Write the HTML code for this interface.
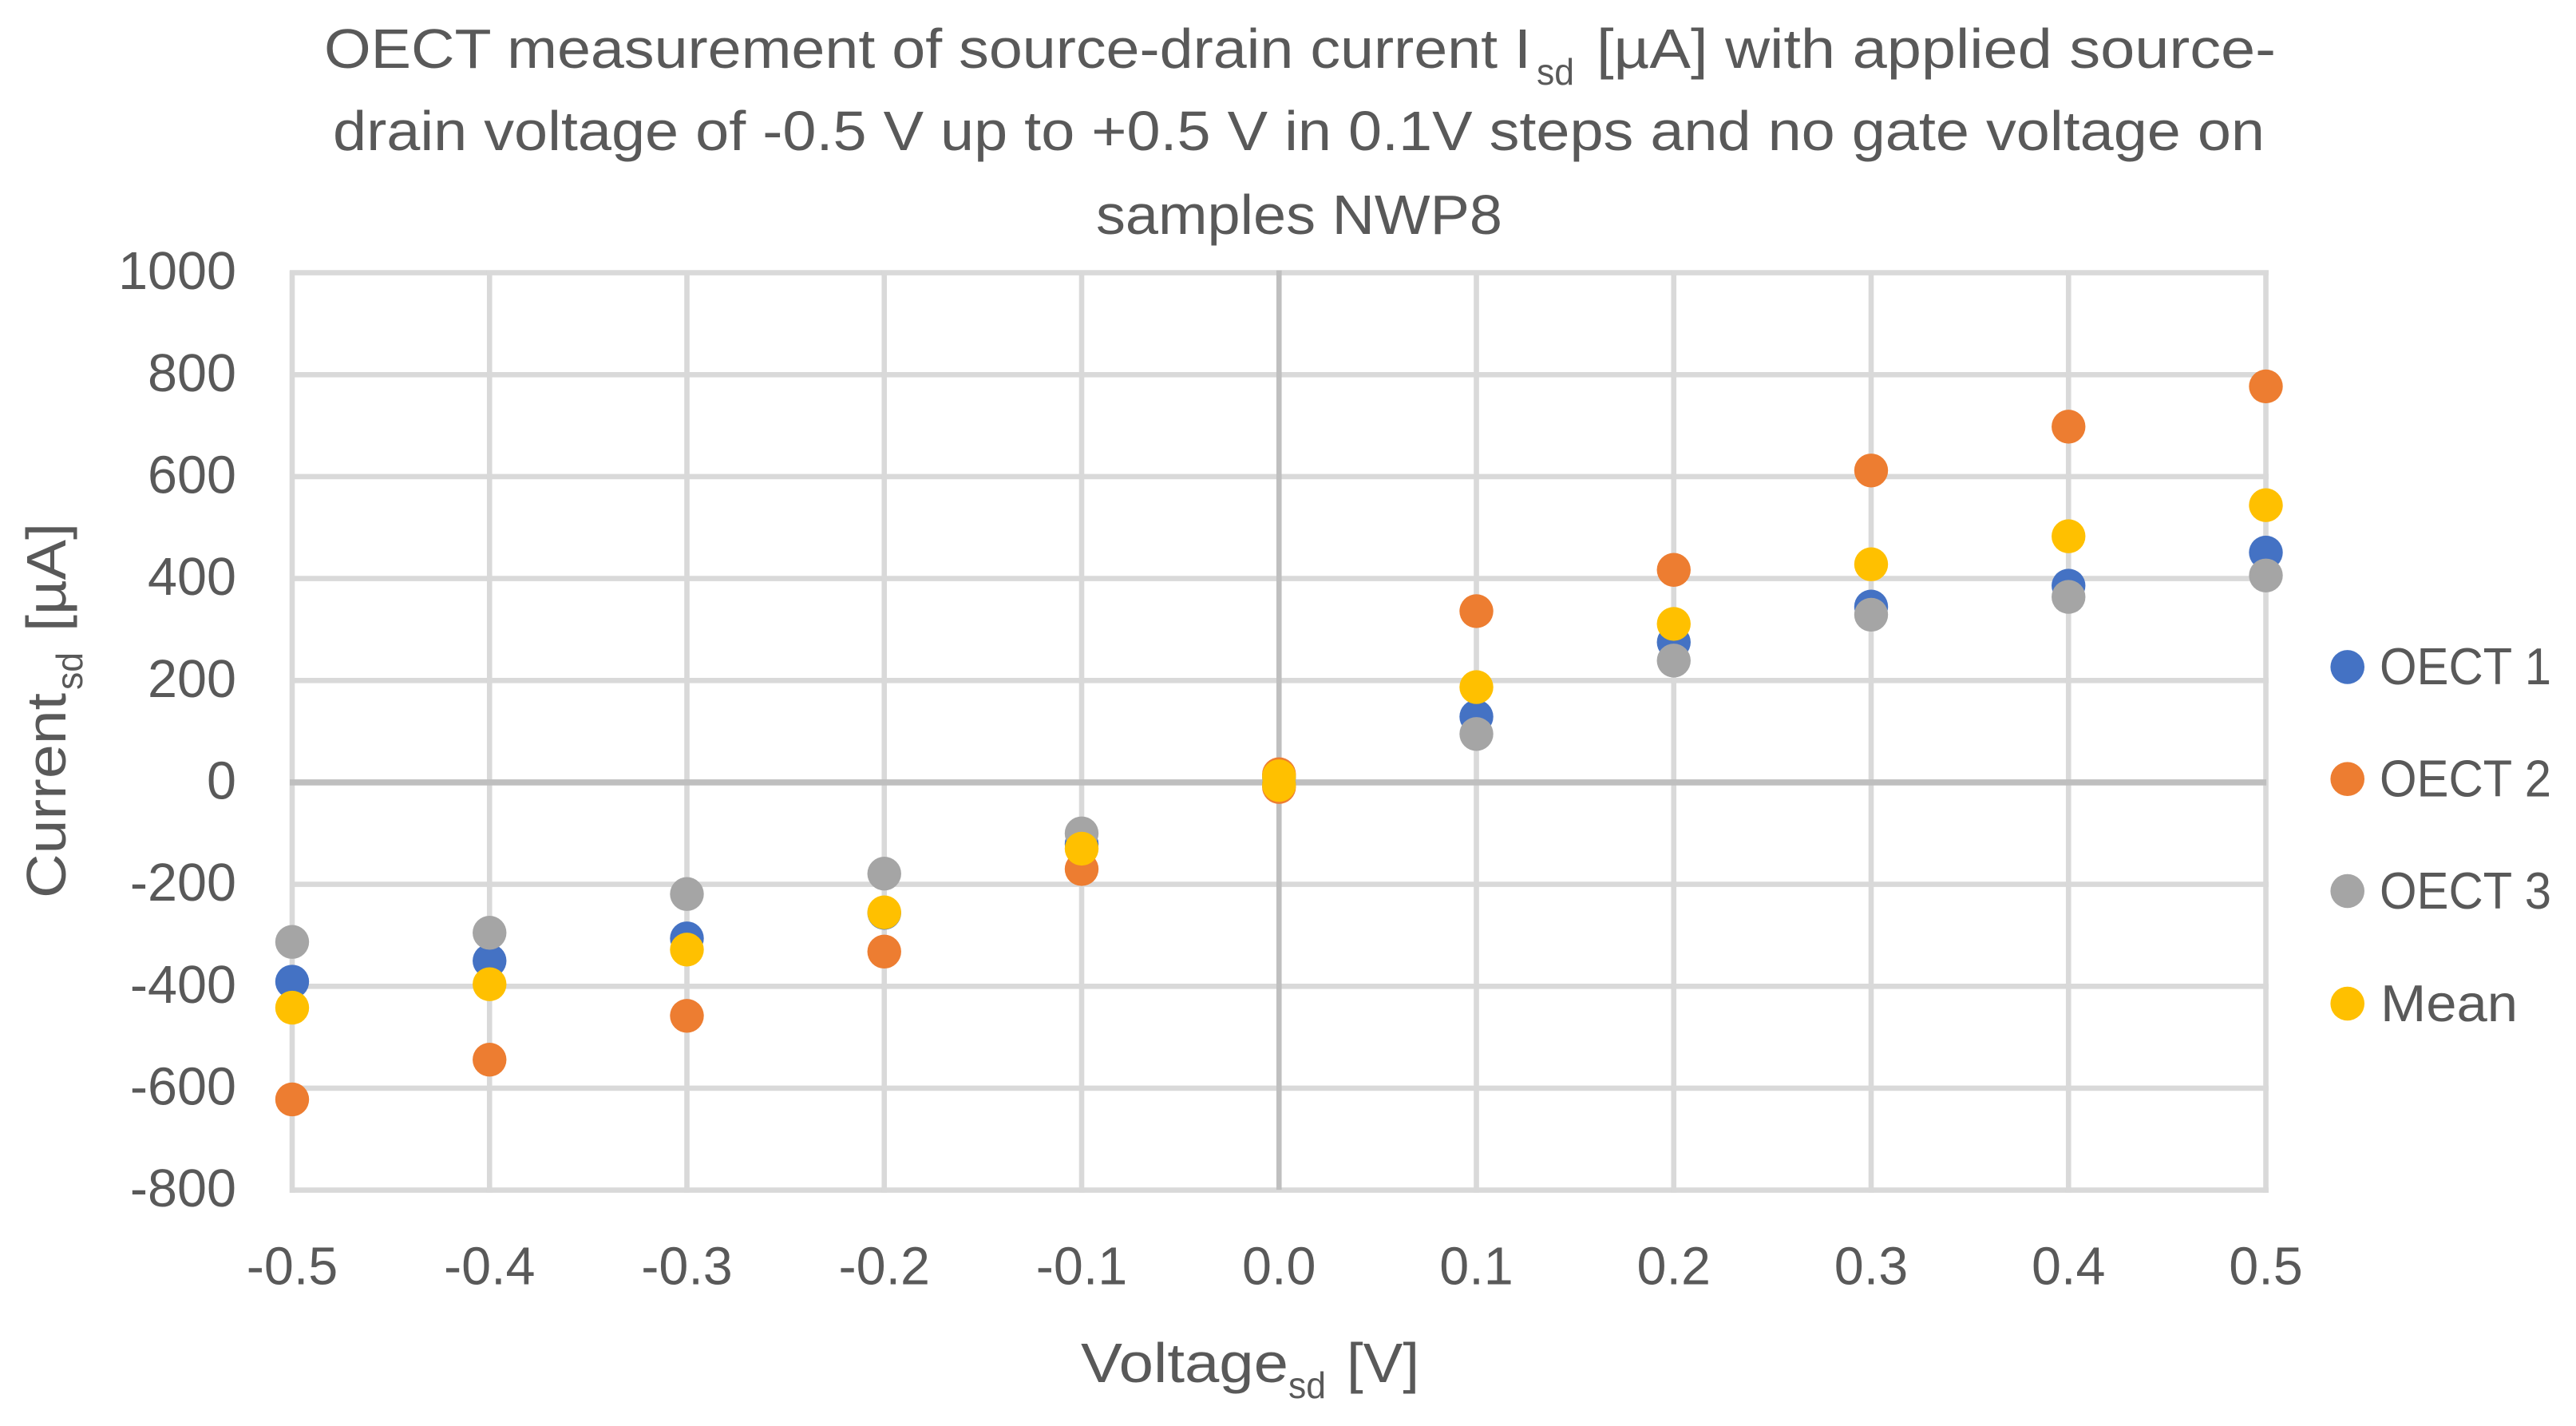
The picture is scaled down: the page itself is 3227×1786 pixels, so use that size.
<!DOCTYPE html>
<html lang="en">
<head>
<meta charset="utf-8">
<title>OECT measurement chart</title>
<style>
html,body{margin:0;padding:0;background:#fff;}
svg{display:block;}
text{font-family:"Liberation Sans",sans-serif;fill:#595959;}
</style>
</head>
<body>
<svg id="chart" xmlns="http://www.w3.org/2000/svg" width="3227" height="1786" viewBox="0 0 3227 1786">
  <rect x="0" y="0" width="3227" height="1786" fill="#ffffff"/>
  <g font-size="70">
    <text x="406" y="85" textLength="1512" lengthAdjust="spacingAndGlyphs">OECT measurement of source-drain current I</text>
    <text x="1925" y="106" font-size="46" textLength="47" lengthAdjust="spacingAndGlyphs">sd</text>
    <text x="2000" y="85" textLength="851" lengthAdjust="spacingAndGlyphs">[µA] with applied source-</text>
    <text x="417" y="188" textLength="2420" lengthAdjust="spacingAndGlyphs">drain voltage of -0.5 V up to +0.5 V in 0.1V steps and no gate voltage on</text>
    <text x="1373" y="293" textLength="509" lengthAdjust="spacingAndGlyphs">samples NWP8</text>
  </g>
  <g id="grid"></g>
  <g id="yticks"></g>
  <g id="xticks"></g>
  <g id="marks"></g>
  <g font-size="70">
    <text transform="translate(82 1125) rotate(-90)" x="0" y="0" textLength="257" lengthAdjust="spacingAndGlyphs">Current</text>
    <text transform="translate(103 864) rotate(-90)" x="0" y="0" font-size="46" textLength="47" lengthAdjust="spacingAndGlyphs">sd</text>
    <text transform="translate(82 791) rotate(-90)" x="0" y="0" textLength="136" lengthAdjust="spacingAndGlyphs">[µA]</text>
  </g>
  <g font-size="70">
    <text x="1354" y="1731" textLength="260" lengthAdjust="spacingAndGlyphs">Voltage</text>
    <text x="1614" y="1751" font-size="46" textLength="47" lengthAdjust="spacingAndGlyphs">sd</text>
    <text x="1687" y="1731" textLength="91" lengthAdjust="spacingAndGlyphs">[V]</text>
  </g>
  <g id="legend"></g>
</svg>
<script>
// Chart data. Voltage 0.0 carries two readings per series.
const voltages = [-0.5, -0.4, -0.3, -0.2, -0.1, 0, 0, 0.1, 0.2, 0.3, 0.4, 0.5];
const oect1 = [-391, -350, -306, -256, -121, 11, -3, 129, 275, 345, 386, 451];
const oect2 = [-622, -544, -458, -332, -170, 16, -9, 336, 417, 612, 698, 777];
const oect3 = [-313, -295, -219, -179, -100, 10, -3, 95, 239, 329, 364, 406];
const mean = [-442, -396, -328, -255, -130, 12, -5, 187, 311, 428, 483, 544];
const yTickValues = [1000, 800, 600, 400, 200, 0, -200, -400, -600, -800];
const xTickValues = [-0.5, -0.4, -0.3, -0.2, -0.1, 0, 0.1, 0.2, 0.3, 0.4, 0.5];
const legendLabels = ['OECT 1', 'OECT 2', 'OECT 3', 'Mean'];

const NS = 'http://www.w3.org/2000/svg';
const plot = { left: 366, right: 2838.5, top: 341.6, bottom: 1490.6 };
const xDomain = [-0.5, 0.5];
const yDomain = [-800, 1000];
function xScale(v) {
  return plot.left + (v - xDomain[0]) / (xDomain[1] - xDomain[0]) * (plot.right - plot.left);
}
function yScale(v) {
  return plot.bottom - (v - yDomain[0]) / (yDomain[1] - yDomain[0]) * (plot.bottom - plot.top);
}
function make(tag, attrs, parent) {
  const el = document.createElementNS(NS, tag);
  for (const k in attrs) el.setAttribute(k, attrs[k]);
  parent.appendChild(el);
  return el;
}

const grid = document.getElementById('grid');
const yticks = document.getElementById('yticks');
const xticks = document.getElementById('xticks');
const marks = document.getElementById('marks');
const legend = document.getElementById('legend');

// Regular gridlines first, zero axes on top.
yTickValues.filter(v => v !== 0).forEach(v => {
  const line = make('line', { x1: plot.left - 3, x2: plot.right + 3.4, y1: yScale(v), y2: yScale(v), stroke: '#D9D9D9', 'stroke-width': 6.6 }, grid);
  
  
});
xTickValues.filter(v => v !== 0).forEach(v => {
  const line = make('line', { x1: xScale(v), x2: xScale(v), y1: plot.top - 3, y2: plot.bottom + 3.2, stroke: '#D9D9D9', 'stroke-width': 6.6 }, grid);
  
  
});
const xAxisLine = make('line', { x1: plot.left - 3, x2: plot.right + 0.6, y1: yScale(0), y2: yScale(0), stroke: '#BFBFBF', 'stroke-width': 7.6 }, grid);


const yAxisLine = make('line', { x1: xScale(0), x2: xScale(0), y1: plot.top - 3, y2: plot.bottom - 0.5, stroke: '#BFBFBF', 'stroke-width': 6.6 }, grid);



yTickValues.forEach(v => {
  const t = make('text', { x: 296, y: yScale(v) + 20.5, 'text-anchor': 'end', 'font-size': 66.5 }, yticks);
  
  
  t.textContent = String(v);
});
xTickValues.forEach(v => {
  const t = make('text', { x: xScale(v), y: 1608.7, 'text-anchor': 'middle', 'font-size': 66.5 }, xticks);
  
  
  t.textContent = v.toFixed(1);
});

const seriesList = [
  { values: oect1, color: '#4472C4' },
  { values: oect2, color: '#ED7D31' },
  { values: oect3, color: '#A5A5A5' },
  { values: mean, color: '#FFC000' }
];
seriesList.forEach(s => {
  s.values.forEach((v, i) => {
    const c = make('circle', { cx: xScale(voltages[i]), cy: yScale(v), r: 21.2, fill: s.color }, marks);
    
    
  });
});

const legendRowY = [835.4, 975.7, 1116, 1257];
const legendTextWidth = [215, 215, 215, 172];
legendLabels.forEach((label, i) => {
  const dot = make('circle', { cx: 2940.7, cy: legendRowY[i], r: 21.3, fill: seriesList[i].color }, legend);
  
  
  const t = make('text', { x: i === 3 ? 2982 : 2981, y: legendRowY[i] + 21.8, 'font-size': 65, textLength: legendTextWidth[i], lengthAdjust: 'spacingAndGlyphs' }, legend);
  
  
  t.textContent = label;
});
</script>
</body>
</html>
